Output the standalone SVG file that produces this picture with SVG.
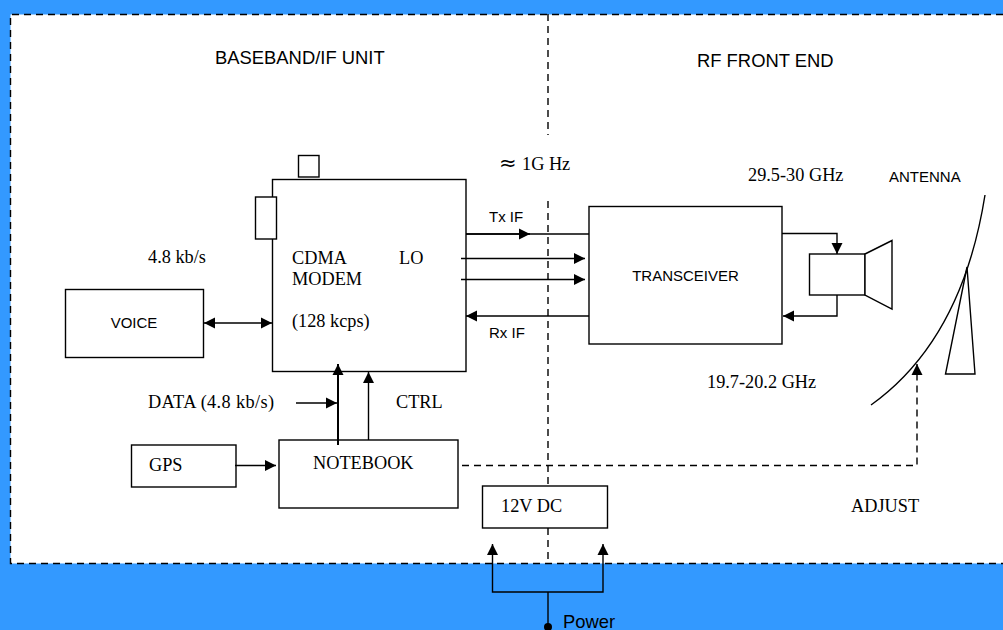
<svg xmlns="http://www.w3.org/2000/svg" width="1003" height="630" viewBox="0 0 1003 630">
<style>
.b{fill:#fff;stroke:#000;stroke-width:1.4}
.l{fill:none;stroke:#000;stroke-width:1.4}
.d{fill:none;stroke:#000;stroke-width:1.4;stroke-dasharray:7 5}
.s{font-family:"Liberation Sans",Arial,sans-serif;fill:#000;font-size:15px}
.h{font-size:18.4px}
.t{font-family:"Liberation Serif","Times New Roman",serif;font-size:18.3px;fill:#000}
</style>
<defs>
<marker id="a" markerUnits="userSpaceOnUse" markerWidth="12" markerHeight="12" refX="11" refY="6" orient="auto-start-reverse"><path d="M0,0.5L11,6L0,11.500Z" fill="#000"/></marker>
</defs>
<rect width="1003" height="630" fill="#3399ff"/>
<rect x="10.500" y="14.500" width="1000" height="549" fill="#fff"/>
<g id="frame">
<path class="d" d="M1003,14.500H10.500V563.500H1003"/>
</g>
<g id="voice"><rect class="b" x="65.500" y="289.500" width="138" height="68"/><text class="s" x="134" y="328" text-anchor="middle">VOICE</text></g>
<g id="cdma"><rect class="b" x="272.500" y="179.500" width="193.500" height="192"/>
<text class="t" x="292" y="264">CDMA</text><text class="t" x="399" y="264">LO</text><text class="t" x="292" y="285">MODEM</text><text class="t" x="292" y="327">(128 kcps)</text></g>
<g id="port-square"><rect class="b" x="298.500" y="155.500" width="20.500" height="21.500"/></g>
<g id="port-rect"><rect class="b" x="255.500" y="197" width="21" height="42"/></g>
<g id="gps"><rect class="b" x="131.500" y="445" width="104.500" height="42"/><text class="t" x="149" y="471">GPS</text></g>
<g id="notebook"><rect class="b" x="279" y="440" width="179" height="68"/><text class="t" x="313" y="469">NOTEBOOK</text></g>
<g id="dc"><rect class="b" x="482.500" y="486" width="125" height="42"/><text class="t" x="501" y="512">12V DC</text></g>
<g id="transceiver"><rect class="b" x="589" y="206.500" width="193" height="137.500"/><text class="s" x="685.500" y="281" text-anchor="middle">TRANSCEIVER</text></g>
<g id="horn"><rect class="b" x="809.500" y="254" width="55.500" height="41"/><path class="b" d="M865,254L892,240.500V309L865,295Z"/></g>
<g id="antenna"><path class="l" d="M871,405Q962,340 985,195"/><path class="l" d="M967,267L945.500,374H975Z"/><text class="s" x="889" y="182">ANTENNA</text></g>
<g id="connectors">
<path class="d" d="M548,14V135M548,201V486M548,528V563"/>
<path class="l" d="M466,234H589"/><path class="l" d="M466,234H530" marker-end="url(#a)"/>
<path class="l" d="M461,258.500H585" marker-end="url(#a)"/>
<path class="l" d="M461,279.500H585" marker-end="url(#a)"/>
<path class="l" d="M589,316H466" marker-end="url(#a)"/>
<path class="l" d="M782,233.500H837V254" marker-end="url(#a)"/>
<path class="l" d="M837,295V316H783" marker-end="url(#a)"/>
<path class="l" d="M204,323H272" marker-start="url(#a)" marker-end="url(#a)"/>
<path class="l" d="M296,403H337" marker-end="url(#a)"/>
<path d="M338,445V364" fill="none" stroke="#000" stroke-width="2" marker-end="url(#a)"/>
<path class="l" d="M368.500,440V372" marker-end="url(#a)"/>
<path class="l" d="M235,465.500H276" marker-end="url(#a)"/>
<path class="d" d="M462,465.500H917V364" marker-end="url(#a)"/>
<path class="l" d="M548,625V592"/>
<path class="l" d="M492.500,544V592H603V544" marker-start="url(#a)" marker-end="url(#a)"/>
<circle cx="548" cy="627" r="4" fill="#000"/>
</g>
<g id="labels">
<text class="s h" x="215" y="64">BASEBAND/IF UNIT</text>
<text class="s h" x="697" y="67">RF FRONT END</text>
<text class="t" x="499" y="170" font-size="18.3" font-family="Liberation Serif"><tspan font-family="DejaVu Sans" font-size="21">≈</tspan></text>
<text class="t" x="522" y="170">1G Hz</text>
<text class="t" x="748" y="181">29.5-30 GHz</text>
<text class="t" x="148" y="263">4.8 kb/s</text>
<text class="s" x="489" y="222">Tx IF</text>
<text class="s" x="489" y="338">Rx IF</text>
<text class="t" x="707" y="388">19.7-20.2 GHz</text>
<text class="t" x="148" y="408" textLength="126">DATA (4.8 kb/s)</text>
<text class="t" x="396" y="408">CTRL</text>
<text class="t" x="851" y="512">ADJUST</text>
<text class="s h" x="563" y="628">Power</text>
</g>
</svg>
